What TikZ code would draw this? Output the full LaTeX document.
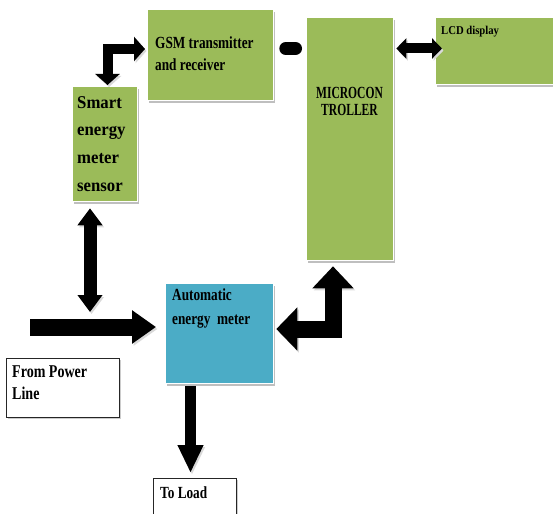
\documentclass[tikz,border=0pt]{standalone}
\usepackage{fontspec}
\setmainfont{Liberation Serif}
\newfontfamily\fa{Liberation Serif}[FakeStretch=0.78]
\newfontfamily\fm{Liberation Serif}[FakeStretch=0.68]
\newfontfamily\fsn{Liberation Serif}[FakeStretch=0.93]
\newfontfamily\fl{Liberation Serif}[FakeStretch=0.89]
\usetikzlibrary{arrows.meta,shadows,calc}
\definecolor{boxgreen}{HTML}{9BBB59}
\definecolor{boxblue}{HTML}{4BACC6}
\begin{document}
\begin{tikzpicture}[x=1pt,y=-1pt,
  box/.style={draw=white, line width=1.3pt, fill=#1, anchor=north west, inner sep=0pt,
    drop shadow={shadow xshift=1.5pt, shadow yshift=-2pt, fill=black!25, opacity=1}},
  wbox/.style={draw=black!85, line width=1.2pt, fill=white, anchor=north west, inner sep=0pt,
    drop shadow={shadow xshift=1.5pt, shadow yshift=-1.5pt, fill=black!20, opacity=1}},
  txt/.style={inner sep=0pt, align=left, text=black},
  arr/.style={draw=black, line join=miter,
    preaction={draw=black!15, transform canvas={shift={(1.5pt,-2pt)}}}}
]
\useasboundingbox (0,0) rectangle (553,513);
% boxes
\node[box=boxgreen, minimum width=126pt, minimum height=91pt] (gsm) at (147,9) {};
\node[box=boxgreen, minimum width=65pt, minimum height=115pt] (sen) at (72,86) {};
\node[box=boxgreen, minimum width=87pt, minimum height=243pt] (mic) at (306,17) {};
\node[box=boxgreen, minimum width=130pt, minimum height=67pt] (lcd) at (435,17) {};
\node[box=boxblue, minimum width=108pt, minimum height=100pt] (aem) at (165,283) {};
\node[wbox, minimum width=113pt, minimum height=59pt] (pwr) at (6,358) {};
\node[wbox, minimum width=83pt, minimum height=45pt] (load) at (153,478) {};
% texts
\node[txt, anchor=north west, font={\fa\bfseries\fontsize{17}{22}\selectfont}] (gsmT) at (155,37) {GSM transmitter\\and receiver};
\node[txt, anchor=north west, font={\fsn\bfseries\fontsize{18}{27.7}\selectfont}] (senT) at (77,96) {Smart\\energy\\meter\\sensor};
\node[txt, align=center, anchor=north, font={\fm\bfseries\fontsize{17}{17}\selectfont}] (micT) at (349.5,87) {MICROCON\\TROLLER};
\node[txt, anchor=north west, font={\fl\bfseries\fontsize{12}{14}\selectfont}] (lcdT) at (441,26) {LCD display};
\node[txt, anchor=north west, font={\fa\bfseries\fontsize{17}{24}\selectfont}] (aemT) at (172,289) {Automatic\\energy\ \ meter};
\node[txt, anchor=north west, font={\fa\bfseries\fontsize{18}{22}\selectfont}] (pwrT) at (12,366) {From Power\\Line};
\node[txt, anchor=north west, font={\fa\bfseries\fontsize{17}{20}\selectfont}] (loadT) at (160,486) {To Load};
% helper coordinates
\coordinate (plS) at (30,327);
\coordinate (pj) at (90,312);
\coordinate (sx) at (90,0);
\coordinate (lx) at (190.5,0);
\coordinate (mx) at (333,0);
\coordinate (my) at (0,329);
\coordinate (gx) at (107.5,0);
\coordinate (gy) at (0,49);
\coordinate (ay) at (0,48.5);
% arrows
\draw[arr, line width=17pt, -{Triangle[width=32pt,length=24pt]}, shorten >=9pt] (plS) -- (plS -| aem.west);
\draw[arr, line width=13pt, {Triangle[width=24pt,length=17pt]}-{Triangle[width=24pt,length=17pt]}, shorten <=6pt] (sen.south -| sx) -- (pj);
\draw[arr, line width=11pt, -{Triangle[width=24pt,length=28pt]}, shorten <=2pt, shorten >=5pt] (aem.south -| lx) -- (load.north -| lx);
\draw[arr, line width=17pt, {Triangle[width=40pt,length=22pt]}-{Triangle[width=42pt,length=21pt]}, shorten <=5pt, shorten >=2pt] (mic.south -| mx) |- (aem.east |- my);
\draw[arr, line width=10pt, {Triangle[width=24pt,length=11pt]}-{Triangle[width=24pt,length=11pt]}, shorten <=1pt, shorten >=2pt] (sen.north -| gx) |- (gsm.west |- gy);
\draw[arr, line width=13pt, line cap=round, shorten <=11.5pt, shorten >=10.5pt] (gsm.east |- ay) -- (mic.west |- ay);
\draw[arr, line width=10pt, {Triangle[width=20pt,length=10pt]}-{Triangle[width=20pt,length=10pt]}, shorten <=2pt, shorten >=-7pt] (mic.east |- ay) -- (lcd.west |- ay);
\end{tikzpicture}
\end{document}
